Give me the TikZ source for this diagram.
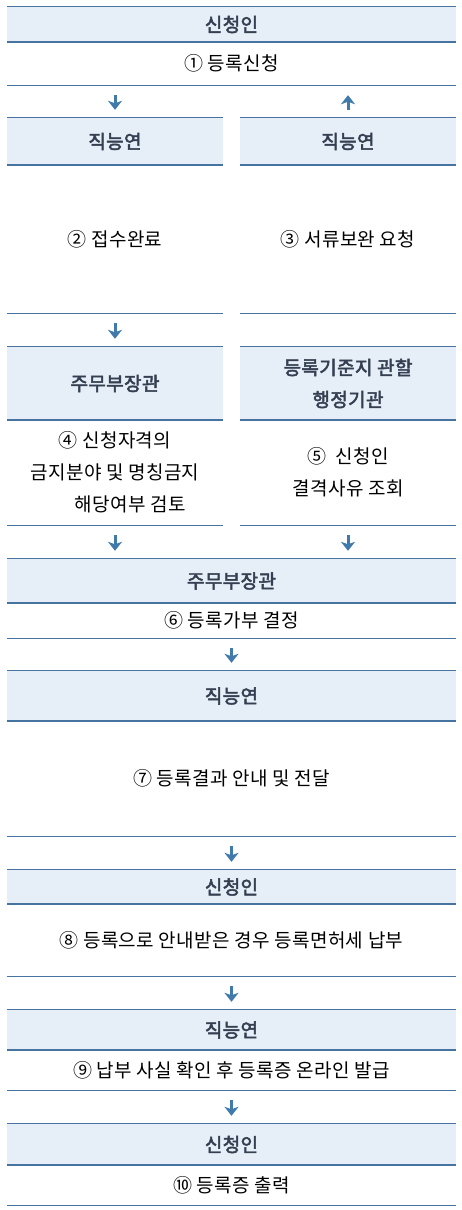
\documentclass[tikz,border=0pt]{standalone}
\usepackage{fontspec}
\setmainfont[LetterSpace=2]{Noto Sans CJK KR}
\newfontfamily\krhead[FakeBold=2.6, LetterSpace=2]{Noto Sans CJK KR}
\usetikzlibrary{arrows.meta}
\definecolor{rulec}{RGB}{70,115,160}
\definecolor{hdrfill}{RGB}{230,238,247}
\definecolor{hdrtext}{RGB}{52,63,82}
\definecolor{arrc}{RGB}{64,122,170}

\begin{document}
\begin{tikzpicture}[x=1pt, y=-1pt, every node/.style={font=\fontsize{19}{32}\selectfont, inner sep=0pt, align=center}, hdr/.style={fill=hdrfill, text=hdrtext, font=\krhead\fontsize{19}{32}\selectfont}, txt/.style={text=black}, full/.style={minimum width=449pt}, half/.style={minimum width=216pt}, rule/.style={draw=rulec, line width=1.3pt}, arr/.style={draw=arrc, line width=3pt, shorten <=10pt, shorten >=8pt, -{Stealth[width=14pt,length=9pt,inset=2.5pt]}}]
	\useasboundingbox (0,0) rectangle (461,1210);
	% top part, split in two columns
	\node[hdr, full, minimum height=35pt] (apl1) at (231.5,24.5) {신청인};
	\node[txt, full, minimum height=43pt] (req) at (231.5,63.5) {① 등록신청};
	\node[hdr, half, minimum height=47pt] (jnL) at (115,141.5) {직능연};
	\node[hdr, half, minimum height=47pt] (jnR) at (348,141.5) {직능연};
	\node[txt, half, minimum height=148pt] (rcv) at (115,239) {② 접수완료};
	\node[txt, half, minimum height=148pt] (supp) at (348,239) {③ 서류보완 요청};
	\node[hdr, half, minimum height=73pt] (minL) at (115,383.5) {주무부장관};
	\node[hdr, half, minimum height=73pt] (locR) at (348,383.5) {등록기준지 관할\\행정기관};
	\node[txt, half, minimum height=105pt] (chk) at (115,472.5) {④ 신청자격의\\금지분야 및 명칭금지\\\hspace*{1.6em}해당여부 검토};
	\node[txt, half, minimum height=105pt] (disq) at (348,472.5) {⑤\ \ 신청인\\결격사유 조회};
	% lower part, one column
	\node[hdr, full, minimum height=44pt] (min2) at (231.5,581) {주무부장관};
	\node[txt, full, minimum height=35pt] (dec) at (231.5,620.5) {⑥ 등록가부 결정};
	\node[hdr, full, minimum height=50pt] (jn2) at (231.5,696) {직능연};
	\node[txt, full, minimum height=115pt] (ntf) at (231.5,778.5) {⑦ 등록결과 안내 및 전달};
	\node[hdr, full, minimum height=34pt] (apl2) at (231.5,887) {신청인};
	\node[txt, full, minimum height=72pt] (pay) at (231.5,940) {⑧ 등록으로 안내받은 경우 등록면허세 납부};
	\node[hdr, full, minimum height=40pt] (jn3) at (231.5,1030) {직능연};
	\node[txt, full, minimum height=40pt] (iss) at (231.5,1070) {⑨ 납부 사실 확인 후 등록증 온라인 발급};
	\node[hdr, full, minimum height=41pt] (apl3) at (231.5,1144.5) {신청인};
	\node[txt, full, minimum height=40pt] (prt) at (231.5,1185) {⑩ 등록증 출력};
	\foreach \n in {apl1,req,jnL,jnR,rcv,supp,minL,locR,chk,disq,min2,dec,jn2,ntf,apl2,pay,jn3,iss,apl3,prt} {\draw[rule] (\n.north west) -- (\n.north east) (\n.south west) -- (\n.south east);}
	\draw[arr] (jnL.north |- req.south) -- (jnL.north);
	\draw[arr, shorten <=8pt, shorten >=10pt] (jnR.north) -- (jnR.north |- req.south);
	\foreach \a/\b in {rcv/minL, chk/min2, disq/min2, dec/jn2, ntf/apl2, pay/jn3, iss/apl3} {\draw[arr] (\a.south) -- (\a.south |- \b.north);}
\end{tikzpicture}
\end{document}
